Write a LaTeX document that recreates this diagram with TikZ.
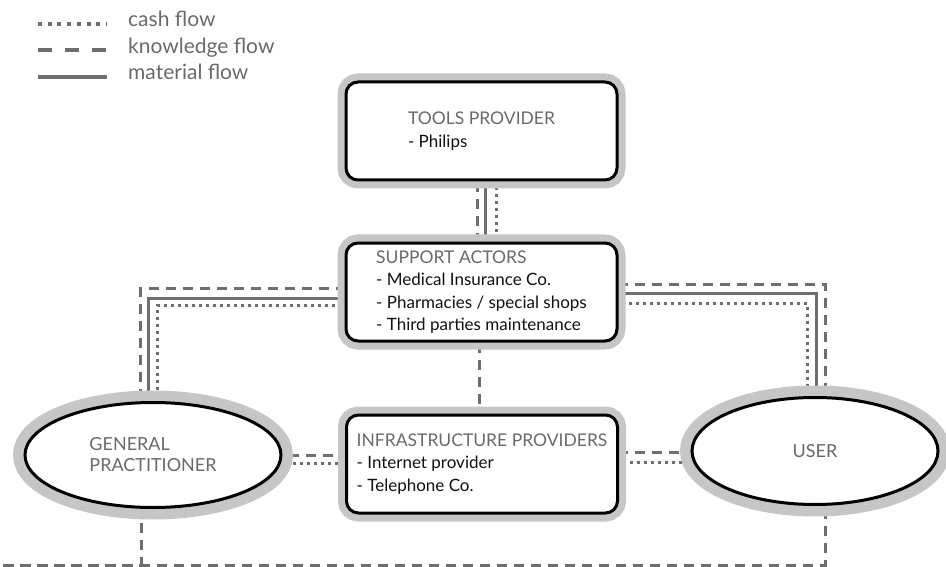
\documentclass[tikz,border=0pt]{standalone}
\usepackage{fontspec}
\setmainfont{Lato}
\usetikzlibrary{shapes.geometric,calc,backgrounds}
\definecolor{ringgrey}{HTML}{C6C6C6}
\definecolor{flowgrey}{HTML}{6E6E6E}
\definecolor{titlegrey}{HTML}{6A6A6A}
\definecolor{itemblack}{HTML}{111111}

\newcommand{\boxtitle}[1]{{\color{titlegrey}\fontsize{17.5}{22.5}\selectfont #1}}

\begin{document}
\begin{tikzpicture}[x=1pt,y=-1pt,
  actorbox/.style={rectangle, rounded corners=12pt, minimum width=271pt,
    minimum height=98pt, inner sep=0pt, fill=white, draw=black, line width=3pt,
    preaction={draw=ringgrey, line width=17pt}, align=left, text=itemblack,
    font=\fontsize{17}{22.5}\selectfont},
  actorell/.style={ellipse, inner sep=0pt, fill=white, draw=black, line width=3pt,
    preaction={draw=ringgrey, line width=24pt}, align=left, text=titlegrey,
    font=\fontsize{18}{21}\selectfont},
  cashflow/.style={draw=flowgrey, line width=3pt, dash pattern=on 3pt off 4pt},
  knowflow/.style={draw=flowgrey, line width=3pt, dash pattern=on 10pt off 7pt},
  matflow/.style={draw=flowgrey, line width=3pt},
  legtext/.style={anchor=base west, inner sep=0pt, text=titlegrey,
    font=\fontsize{21}{24}\selectfont},
  legcash/.style={draw=flowgrey, line width=4pt, dash pattern=on 4pt off 5.7pt},
  legknow/.style={draw=flowgrey, line width=4pt, dash pattern=on 14pt off 13pt},
  legmat/.style={draw=flowgrey, line width=4pt},
]
\useasboundingbox (0,0) rectangle (946,567);

% legend
\node[legtext] (lcash) at (128,27) {cash flow};
\node[legtext] (lknow) at (128,53.5) {knowledge flow};
\node[legtext] (lmat)  at (128,80) {material flow};
\draw[legcash] ($(lcash.base west)+(-90,-3)$) -- ++(69,0);
\draw[legknow] ($(lknow.base west)+(-90,-3)$) -- ++(69,0);
\draw[legmat]  ($(lmat.base west)+(-90,-3)$) -- ++(69,0);

% actors
\node[actorbox] (tools) at (481.5,131)
  {\boxtitle{TOOLS PROVIDER}\\- Philips};
\node[actorbox] (support) at (481.5,292)
  {\boxtitle{SUPPORT ACTORS}\\- Medical Insurance Co.\\- Pharmacies / special shops\\- Third parties maintenance};
\node[actorbox] (infra) at (482,464)
  {\boxtitle{INFRASTRUCTURE PROVIDERS}\\- Internet provider\\- Telephone Co.};
\node[actorell, minimum width=256pt, minimum height=105pt] (gp) at (153,455)
  {GENERAL\\PRACTITIONER};
\node[actorell, minimum width=246pt, minimum height=107pt] (user) at (815,451)
  {USER};

\coordinate (bottom) at (0,565);

% flows, drawn beneath the actors
\begin{pgfonlayer}{background}
  % tools provider -- support actors
  \draw[knowflow] ($(tools.center)+(-4.5,0)$) -- ($(support.center)+(-4.5,0)$);
  \draw[matflow]  ($(tools.center)+(3.5,0)$)  -- ($(support.center)+(3.5,0)$);
  \draw[cashflow] ($(tools.center)+(14.5,0)$) -- ($(support.center)+(14.5,0)$);
  % support actors -- general practitioner
  \draw[knowflow] ($(support.center)+(0,-4)$) -| ($(gp.center)+(-13,0)$);
  \draw[matflow]  ($(support.center)+(0,6)$)  -| ($(gp.center)+(-5,0)$);
  \draw[cashflow] ($(support.center)+(0,13)$) -| ($(gp.center)+(4,0)$);
  % support actors -- user
  \draw[knowflow] ($(support.center)+(0,-8)$) -| ($(user.center)+(10,0)$);
  \draw[matflow]  ($(support.center)+(0,1)$)  -| ($(user.center)+(1,0)$);
  \draw[cashflow] ($(support.center)+(0,11)$) -| ($(user.center)+(-8,0)$);
  % support actors -- infrastructure providers
  \draw[knowflow] ($(support.center)+(-2.5,0)$) -- ($(infra.center)+(-3,0)$);
  % general practitioner -- infrastructure providers
  \draw[knowflow] ($(gp.center)+(0,0)$) -- ($(infra.center)+(0,-9)$);
  \draw[cashflow] ($(gp.center)+(0,8)$) -- ($(infra.center)+(0,-1)$);
  % user -- infrastructure providers
  \draw[knowflow] ($(user.center)+(0,1)$)  -- ($(infra.center)+(0,-12)$);
  \draw[cashflow] ($(user.center)+(0,11)$) -- ($(infra.center)+(0,-2)$);
  % general practitioner -- user
  \draw[knowflow] ($(gp.center)+(-12,0)$) |- (bottom) -| ($(user.center)+(10,0)$);
\end{pgfonlayer}
\end{tikzpicture}
\end{document}
